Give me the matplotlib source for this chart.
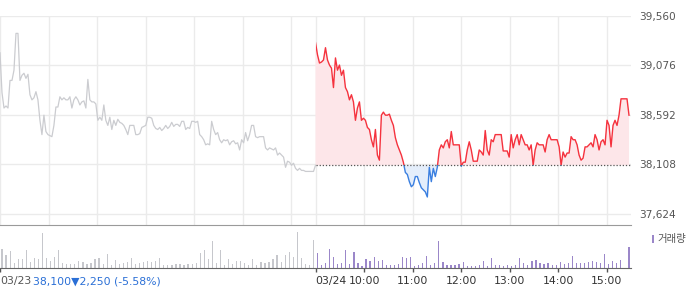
import matplotlib
matplotlib.use("Agg")
import matplotlib.pyplot as plt
from matplotlib.patches import Rectangle
import numpy as np

# 03/23 intraday prices (even samples over 09:00-15:30)
day1_price = [
    39200, 38810, 38660, 38680, 38660, 38930, 38930, 39030, 39390, 39390,
    38930, 38980, 39000, 38950, 38990, 38790, 38740, 38760, 38820, 38740,
    38540, 38400, 38590, 38430, 38400, 38390, 38380, 38490, 38670, 38670,
    38770, 38740, 38760, 38740, 38740, 38770, 38660, 38740, 38770, 38740,
    38690, 38720, 38730, 38660, 38940, 38740, 38720, 38720, 38700, 38540,
    38570, 38540, 38690, 38540, 38490, 38570, 38450, 38540, 38490, 38550,
    38520, 38510, 38490, 38450, 38400, 38490, 38490, 38490, 38400, 38400,
    38410, 38470, 38480, 38490, 38570, 38570, 38560, 38490, 38460, 38450,
    38470, 38440, 38460, 38490, 38460, 38480, 38520, 38480, 38500, 38500,
    38480, 38530, 38530, 38450, 38470, 38460, 38530, 38530, 38520, 38530,
    38400, 38380, 38350, 38300, 38310, 38300, 38530, 38450, 38400, 38420,
    38350, 38320, 38350, 38340, 38350, 38300, 38330, 38340, 38310, 38320,
    38250, 38350, 38320, 38420, 38340, 38400, 38490, 38490, 38380, 38370,
    38380, 38380, 38380, 38270, 38250, 38270, 38260, 38250, 38270, 38200,
    38220, 38200, 38180, 38080, 38140, 38130, 38100, 38120, 38070, 38050,
    38070, 38050, 38050, 38040, 38040, 38040, 38040, 38040, 38100,
]

# 03/24 intraday prices, same sampling
day2_price = [
    39300, 39180, 39100, 39110, 39130, 39250, 39130, 39080, 39050, 38860,
    39150, 39030, 39080, 38980, 39030, 38860, 38820, 38740, 38790, 38720,
    38540, 38660, 38720, 38540, 38560, 38540, 38470, 38450, 38350, 38280,
    38450, 38200, 38150, 38590, 38620, 38590, 38590, 38600, 38540, 38490,
    38370, 38300, 38250, 38200, 38130, 38030, 38010, 37940, 37890, 37910,
    37990, 37990, 37930, 37880, 37860, 37840, 37790, 38080, 37940, 38070,
    37990, 38080, 38250, 38300, 38270, 38330, 38350, 38270, 38430, 38300,
    38300, 38300, 38300, 38090, 38130, 38130, 38250, 38330, 38250, 38140,
    38140, 38140, 38250, 38230, 38200, 38440, 38250, 38200, 38350, 38330,
    38400, 38400, 38400, 38400, 38240, 38240, 38240, 38180, 38400, 38270,
    38350, 38400, 38300, 38400, 38350, 38300, 38300, 38250, 38300, 38100,
    38250, 38320, 38300, 38300, 38300, 38230, 38350, 38400, 38350, 38350,
    38350, 38350, 38280, 38100, 38230, 38180, 38220, 38220, 38380, 38350,
    38350, 38300, 38200, 38150, 38170, 38280, 38280, 38300, 38320, 38280,
    38400, 38350, 38250, 38330, 38350, 38300, 38540, 38490, 38280, 38490,
    38540, 38490, 38590, 38750, 38750, 38750, 38750, 38590,
]

# 5-minute volume (thousand shares)
day1_vol = [
    19, 13, 17, 5, 9, 9, 18, 6, 10, 9, 35, 10, 7, 11, 18, 5, 4, 4, 4, 7,
    6, 4, 5, 9, 10, 4, 14, 3, 8, 4, 5, 6, 10, 4, 5, 6, 7, 6, 7, 10,
    3, 3, 3, 4, 4, 3, 4, 4, 5, 15, 18, 9, 27, 5, 18, 3, 9, 4, 7, 7,
    5, 3, 9, 3, 6, 5, 6, 9, 13, 6, 13, 16, 11, 36, 10, 4, 3, 28,
]
day2_vol = [
    15, 3, 5, 19, 11, 4, 5, 18, 4, 16, 5, 2, 9, 7, 11, 7, 8, 3, 3, 3,
    4, 11, 10, 11, 2, 3, 5, 12, 3, 5, 27, 6, 3, 3, 3, 4, 6, 2, 2, 2,
    3, 7, 2, 10, 3, 3, 2, 3, 2, 3, 10, 5, 3, 7, 8, 5, 4, 5, 3, 3,
    6, 4, 5, 12, 5, 5, 5, 6, 7, 6, 5, 14, 4, 7, 5, 8, 0, 21,
]

base_price = 38100
price_ticks = [37624, 38108, 38592, 39076, 39560]
hour_ticks = [450, 510, 570, 630, 690, 750]
hour_labels = ["10:00", "11:00", "12:00", "13:00", "14:00", "15:00"]

step = 390 / (len(day1_price) - 1)
t1 = np.arange(len(day1_price)) * step
t2 = 390 + np.arange(len(day2_price)) * step
p1 = np.array(day1_price)
p2 = np.array(day2_price)

fig = plt.figure(figsize=(7, 2.89), dpi=100)
ax = fig.add_axes([0, 1 - 225 / 289, 631 / 700, 209 / 289])
vax = fig.add_axes([0, 1 - 268 / 289, 631 / 700, 43 / 289])

# price panel
ax.set_xlim(0, 780)
ax.set_ylim(37516, 39560)
ax.set_yticks(price_ticks)
ax.set_yticklabels([f"{v:,}" for v in price_ticks])
ax.set_xticks([0, 60, 120, 180, 240, 300, 360, 390] + hour_ticks)
ax.grid(color="#ebebeb", lw=1)
ax.set_axisbelow(True)
ax.yaxis.tick_right()
ax.tick_params(axis="y", length=0, pad=6, labelsize=7.6, labelcolor="#555555")
ax.tick_params(axis="x", length=0, labelbottom=False)
for s in ax.spines.values():
    s.set_visible(False)

ax.plot(t1, p1, color="#cbccd0", lw=0.9)

ax.fill_between(t2, p2, base_price, where=p2 >= base_price, interpolate=True,
                color="#fde6e9", lw=0)
ax.fill_between(t2, p2, base_price, where=p2 <= base_price, interpolate=True,
                color="#e4eefb", lw=0)

up, = ax.plot(t2, p2, color="#f5323e", lw=1)
down, = ax.plot(t2, p2, color="#3a7fe0", lw=1)
up_clip = Rectangle((390, base_price), 400, 5000, transform=ax.transData)
down_clip = Rectangle((390, base_price - 5000), 400, 5000, transform=ax.transData)
up.set_clip_path(up_clip)
down.set_clip_path(down_clip)

ax.plot([390, 780], [base_price, base_price], color="#555555", lw=0.9,
        linestyle=(0, (1, 1.5)))

# volume panel
tv = np.arange(len(day1_vol)) * 5 + 2.5
vax.bar(tv, day1_vol, width=1.5, color="#c6c7cc", lw=0)
vax.bar(390 + tv, day2_vol, width=1.5, color="#9b87c9", lw=0)
vax.set_xlim(0, 780)
vax.set_ylim(0, 43)
vax.set_yticks([])
vax.set_xticks([0, 390] + hour_ticks)
vax.set_xticklabels(["03/23", "03/24"] + hour_labels)
for lbl in vax.get_xticklabels()[:2]:
    lbl.set_ha("left")
vax.tick_params(axis="x", direction="out", length=3, width=1, color="#555555",
                labelsize=7.8, labelcolor="#333333", pad=3)
vax.get_xticklabels()[0].set_color("#555555")
for side in ("left", "right"):
    vax.spines[side].set_visible(False)
vax.spines["top"].set_color("#9a9a9a")
vax.spines["bottom"].set_color("#666666")

fig.text(33 / 700, 1 - 282 / 289, "38,100\u25bc2,250 (-5.58%)", color="#2a6fd6",
         fontsize=7.8, va="center", ha="left")

fig.patches.append(Rectangle((652 / 700, 1 - 243 / 289), 2 / 700, 8 / 289,
                             transform=fig.transFigure, color="#9b87c9", lw=0))
fig.text(657 / 700, 1 - 239 / 289, "거래량", color="#555555", fontsize=7.5,
         va="center", ha="left", family=["Noto Sans CJK KR", "DejaVu Sans"])

fig.savefig("out.png", dpi=100)
